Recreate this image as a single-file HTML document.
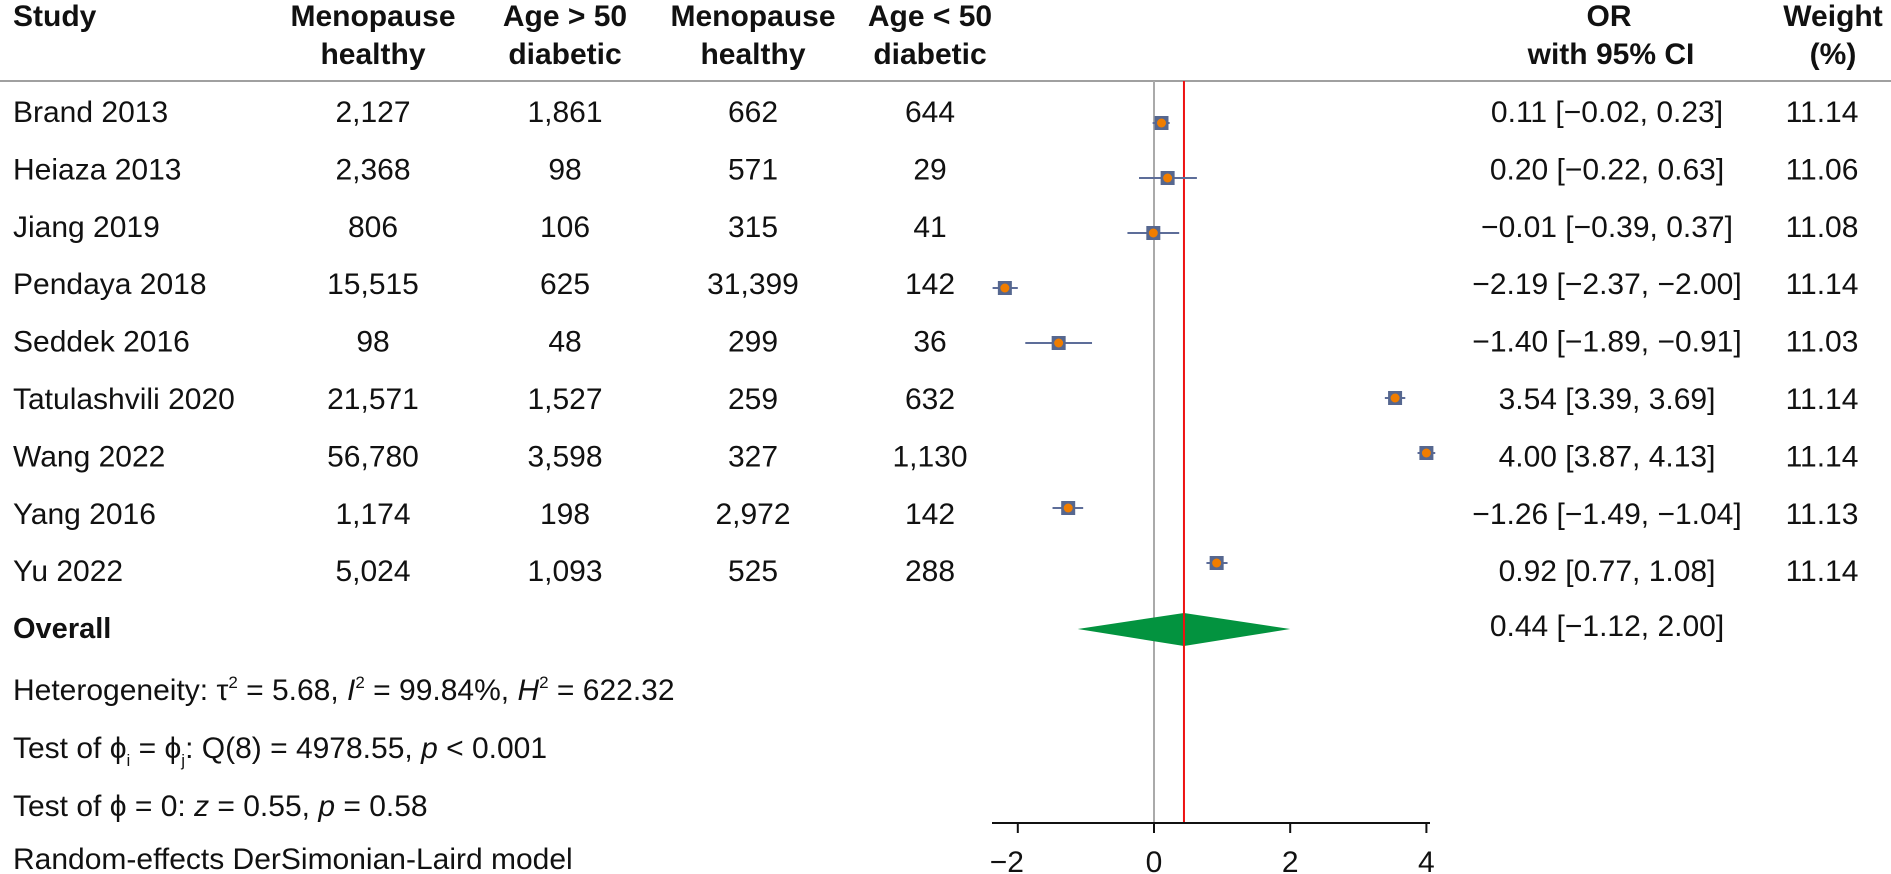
<!DOCTYPE html>
<html><head><meta charset="utf-8"><style>
html,body{margin:0;padding:0;background:#fff;}
svg{display:block;font-family:"Liberation Sans",sans-serif;}
</style></head><body>
<svg id="chart" width="1891" height="874" viewBox="0 0 1891 874" xmlns="http://www.w3.org/2000/svg">
<g id="hdr" font-weight="bold" font-size="30" fill="#111">
<text x="13" y="26">Study</text>
<text x="373" y="26" text-anchor="middle">Menopause</text>
<text x="373" y="64" text-anchor="middle">healthy</text>
<text x="565" y="26" text-anchor="middle">Age &gt; 50</text>
<text x="565" y="64" text-anchor="middle">diabetic</text>
<text x="753" y="26" text-anchor="middle">Menopause</text>
<text x="753" y="64" text-anchor="middle">healthy</text>
<text x="930" y="26" text-anchor="middle">Age &lt; 50</text>
<text x="930" y="64" text-anchor="middle">diabetic</text>
<text x="1609" y="26" text-anchor="middle">OR</text>
<text x="1611" y="64" text-anchor="middle">with 95% CI</text>
<text x="1833" y="26" text-anchor="middle">Weight</text>
<text x="1833" y="64" text-anchor="middle">(%)</text>
</g>
<line x1="0" y1="81" x2="1891" y2="81" stroke="#a0a0a0" stroke-width="2"/>
<g id="rows"></g>
<g id="plot"></g>
<g font-size="30" fill="#111">
<text x="13" y="638" font-weight="bold" font-size="29">Overall</text>
<text x="1607" y="636" text-anchor="middle">0.44 [−1.12, 2.00]</text>
<text x="13" y="700">Heterogeneity: τ<tspan font-size="17" dy="-12">2</tspan><tspan dy="12"> = 5.68, </tspan><tspan font-style="italic">I</tspan><tspan font-size="17" dy="-12">2</tspan><tspan dy="12"> = 99.84%, </tspan><tspan font-style="italic">H</tspan><tspan font-size="17" dy="-12">2</tspan><tspan dy="12"> = 622.32</tspan></text>
<text x="13" y="758">Test of ϕ<tspan font-size="17" dy="8">i</tspan><tspan dy="-8"> = ϕ</tspan><tspan font-size="17" dy="8">j</tspan><tspan dy="-8">: Q(8) = 4978.55, </tspan><tspan font-style="italic">p</tspan> &lt; 0.001</text>
<text x="13" y="816">Test of ϕ = 0: <tspan font-style="italic">z</tspan> = 0.55, <tspan font-style="italic">p</tspan> = 0.58</text>
<text x="13" y="869">Random-effects DerSimonian-Laird model</text>
</g>
</svg>
<script>
const studies = ["Brand 2013","Heiaza 2013","Jiang 2019","Pendaya 2018","Seddek 2016","Tatulashvili 2020","Wang 2022","Yang 2016","Yu 2022"];
const menoHealthy = ["2,127","2,368","806","15,515","98","21,571","56,780","1,174","5,024"];
const ageOver50Diab = ["1,861","98","106","625","48","1,527","3,598","198","1,093"];
const menoHealthy2 = ["662","571","315","31,399","299","259","327","2,972","525"];
const ageUnder50Diab = ["644","29","41","142","36","632","1,130","142","288"];
const orVal = [0.11,0.20,-0.01,-2.19,-1.40,3.54,4.00,-1.26,0.92];
const ciLow = [-0.02,-0.22,-0.39,-2.37,-1.89,3.39,3.87,-1.49,0.77];
const ciHigh = [0.23,0.63,0.37,-2.00,-0.91,3.69,4.13,-1.04,1.08];
const weights = ["11.14","11.06","11.08","11.14","11.03","11.14","11.14","11.13","11.14"];
const overallOR = 0.44, overallLow = -1.12, overallHigh = 2.00;
const xTicks = [-2,0,2,4];

const NS="http://www.w3.org/2000/svg";
const xs = v => 1154 + v*68.1;
const textY = i => 122 + i*57.4;
const markY = i => 123 + i*55;
const fmt = v => (v<0?"−":"")+Math.abs(v).toFixed(2);
function mk(tag, attrs, parent){const e=document.createElementNS(NS,tag);for(const k in attrs)e.setAttribute(k,attrs[k]);parent.appendChild(e);return e;}
const rows=document.getElementById('rows'), plot=document.getElementById('plot');
const cols=[[menoHealthy,373],[ageOver50Diab,565],[menoHealthy2,753],[ageUnder50Diab,930]];
studies.forEach((s,i)=>{
  const y=textY(i);
  let t=mk('text',{x:13,y:y,'font-size':30,fill:'#111'},rows);t.textContent=s;
  
  
  cols.forEach(([arr,x])=>{
    const c=mk('text',{x:x,y:y,'font-size':30,fill:'#111','text-anchor':'middle'},rows);c.textContent=arr[i];
    
    
  });
  const o=mk('text',{x:1607,y:y,'font-size':30,fill:'#111','text-anchor':'middle'},rows);
  o.textContent=fmt(orVal[i])+" ["+fmt(ciLow[i])+", "+fmt(ciHigh[i])+"]";
  
  
  const w=mk('text',{x:1822,y:y,'font-size':30,fill:'#111','text-anchor':'middle'},rows);w.textContent=weights[i];
  
  
});
let l=mk('line',{x1:xs(0),x2:xs(0),y1:81,y2:823,stroke:'#aaaaaa','stroke-width':2},plot);


const dy=629;
let d=mk('polygon',{points:`${xs(overallLow)},${dy} ${xs(overallOR)},${dy-16} ${xs(overallHigh)},${dy} ${xs(overallOR)},${dy+17}`,fill:'#03933f'},plot);


l=mk('line',{x1:xs(overallOR),x2:xs(overallOR),y1:81,y2:823,stroke:'#ee1111','stroke-width':2},plot);


orVal.forEach((v,i)=>{
  const y=markY(i);
  const ci=mk('line',{x1:xs(ciLow[i]),x2:xs(ciHigh[i]),y1:y,y2:y,stroke:'#5d6d99','stroke-width':2},plot);
  
  
  const r=mk('rect',{x:xs(v)-7,y:y-7,width:14,height:14,fill:'#56678f'},plot);
  
  
  const c=mk('circle',{cx:xs(v),cy:y,r:4.5,fill:'#f07d00'},plot);
  
  
});
let ax=mk('line',{x1:992,x2:1430,y1:823,y2:823,stroke:'#111','stroke-width':2},plot);


xTicks.forEach(t=>{
  const tk=mk('line',{x1:xs(t),x2:xs(t),y1:823,y2:833,stroke:'#111','stroke-width':2},plot);
  
  
  const tl=mk('text',{x:xs(t)-(t<0?11:0),y:872,'font-size':30,fill:'#111','text-anchor':'middle'},plot);
  tl.textContent=(t<0?"−":"")+Math.abs(t);
  
  
});
</script>
</body></html>
